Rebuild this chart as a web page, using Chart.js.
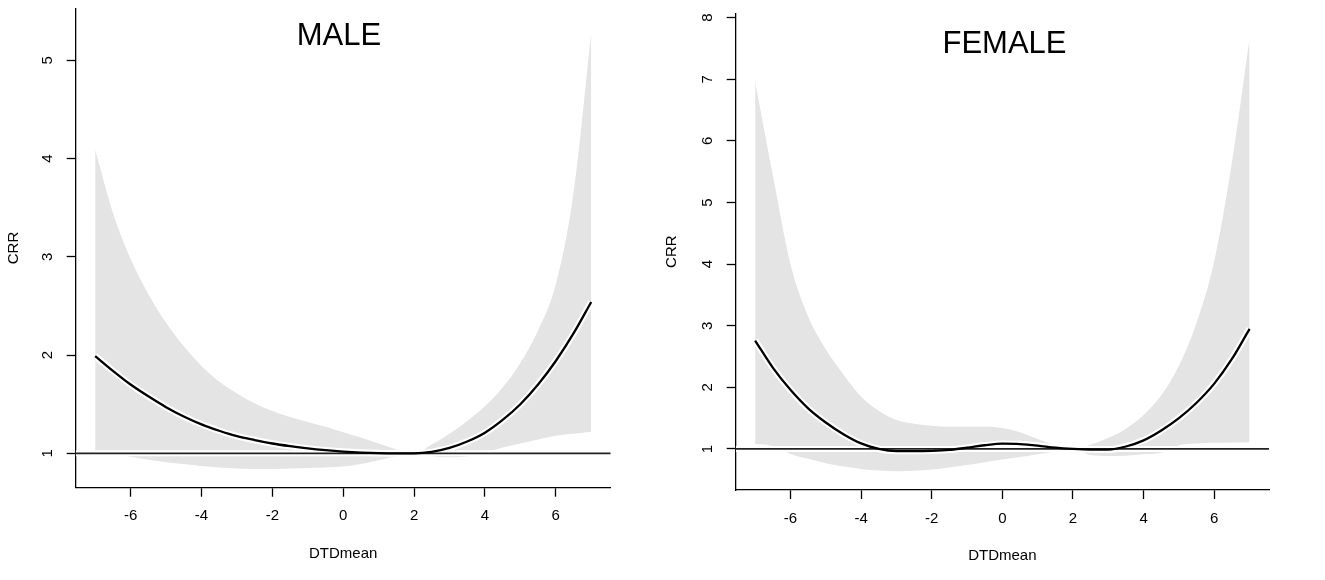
<!DOCTYPE html>
<html>
<head>
<meta charset="utf-8">
<script src="https://cdn.jsdelivr.net/npm/chart.js@4.4.0/dist/chart.umd.min.js"></script>
<style>
  html, body { margin: 0; padding: 0; background: #fff; width: 1325px; height: 580px; overflow: hidden; }
  #wl { position: absolute; left: 0; top: 0; width: 662px; height: 580px; }
  #wr { position: absolute; left: 662px; top: 0; width: 663px; height: 580px; }
</style>
</head>
<body>
<div id="wl"><canvas id="cl" width="662" height="580"></canvas></div>
<div id="wr"><canvas id="cr" width="663" height="580"></canvas></div>
<script>
// ---------- data ----------
const dtd = [-7, -6.5, -6, -5.5, -5, -4.5, -4, -3.5, -3, -2.5, -2, -1.5, -1, -0.5, 0,
             0.5, 1, 1.5, 2, 2.5, 3, 3.5, 4, 4.5, 5, 5.5, 6, 6.5, 7];

const xTicks = [-6, -4, -2, 0, 2, 4, 6];
const maleYTicks = [1, 2, 3, 4, 5];
const femaleYTicks = [1, 2, 3, 4, 5, 6, 7, 8];

const xRange = [-7.55, 7.55];
const maleYRange = [0.65, 5.53];
const femaleYRange = [0.334, 8.07];
const refValue = 1;

const maleFit   = [1.99, 1.84, 1.70, 1.58, 1.47, 1.375, 1.295, 1.23, 1.175, 1.135, 1.10, 1.073, 1.05, 1.032, 1.018,
                   1.008, 1.002, 1.0, 1.0, 1.015, 1.055, 1.12, 1.21, 1.34, 1.50, 1.70, 1.94, 2.22, 2.54];
const maleUpper = [4.09, 3.45, 2.98, 2.62, 2.33, 2.09, 1.89, 1.73, 1.61, 1.51, 1.43, 1.37, 1.32, 1.27, 1.215,
                   1.16, 1.10, 1.04, 1.0, 1.09, 1.20, 1.33, 1.48, 1.67, 1.92, 2.25, 2.72, 3.65, 5.28];
const maleLower = [1.03, 1.0, 0.965, 0.935, 0.91, 0.89, 0.87, 0.855, 0.845, 0.84, 0.84, 0.845, 0.85, 0.855, 0.865,
                   0.89, 0.93, 0.97, 1.0, 0.97, 0.96, 0.97, 1.01, 1.06, 1.10, 1.14, 1.18, 1.20, 1.22];

const femaleFit   = [2.76, 2.32, 1.96, 1.66, 1.43, 1.24, 1.09, 1.0, 0.965, 0.965, 0.97, 0.985, 1.02, 1.06, 1.085,
                     1.08, 1.055, 1.02, 1.0, 0.99, 0.99, 1.04, 1.14, 1.30, 1.50, 1.75, 2.06, 2.46, 2.95];
const femaleUpper = [6.96, 5.45, 4.0, 3.15, 2.62, 2.21, 1.85, 1.62, 1.47, 1.41, 1.375, 1.36, 1.36, 1.36, 1.34,
                     1.27, 1.16, 1.06, 1.0, 1.07, 1.18, 1.33, 1.55, 1.87, 2.35, 3.05, 4.05, 5.65, 7.66];
const femaleLower = [1.08, 1.05, 0.92, 0.84, 0.77, 0.715, 0.675, 0.65, 0.64, 0.645, 0.665, 0.70, 0.74, 0.785, 0.83,
                     0.87, 0.915, 0.96, 1.0, 0.90, 0.885, 0.89, 0.915, 0.94, 1.06, 1.09, 1.10, 1.105, 1.11];

// ---------- styling ----------
const FONT = "'Liberation Sans', Arial, Helvetica, sans-serif";
const BAND = '#e4e4e4';

const pts = arr => dtd.map((x, i) => ({ x: x, y: arr[i] }));
const refPts = () => [{ x: xRange[0], y: refValue }, { x: xRange[1], y: refValue }];

const titlePlugin = {
  id: 'panelTitle',
  afterDraw(chart, args, opts) {
    const ctx = chart.ctx;
    ctx.save();
    ctx.font = '31px ' + FONT;
    ctx.fillStyle = '#000';
    ctx.textAlign = 'center';
    ctx.textBaseline = 'alphabetic';
    ctx.fillText(opts.text, opts.x, opts.y);
    ctx.restore();
  }
};

function lineDs(data, color, width, order, extra) {
  return Object.assign({
    data: data, borderColor: color, borderWidth: width, pointRadius: 0,
    fill: false, order: order, cubicInterpolationMode: 'monotone', borderCapStyle: 'butt'
  }, extra || {});
}

function makePanel(id, p) {
  const ctx = document.getElementById(id);
  return new Chart(ctx, {
    type: 'line',
    data: {
      datasets: [
        lineDs(pts(p.upper), 'rgba(0,0,0,0)', 0, 10, { fill: '+1', backgroundColor: BAND }),
        lineDs(pts(p.lower), 'rgba(0,0,0,0)', 0, 10),
        lineDs(refPts(), '#ffffff', 6, 5),
        lineDs(pts(p.fit), '#ffffff', 6.5, 4),
        lineDs(refPts(), '#222222', 1.7, 2),
        lineDs(pts(p.fit), '#000000', 2.3, 1)
      ]
    },
    options: {
      responsive: false,
      animation: false,
      events: [],
      layout: { padding: p.pad },
      plugins: {
        legend: { display: false },
        tooltip: { enabled: false },
        panelTitle: { text: p.title, x: p.titleX, y: p.titleY }
      },
      scales: {
        x: {
          type: 'linear',
          min: xRange[0], max: xRange[1],
          z: 1,
          afterBuildTicks: s => { s.ticks = xTicks.map(v => ({ value: v })); },
          afterFit: s => { s.height = p.xH; s.paddingLeft = 0; s.paddingRight = 0; },
          grid: { display: true, drawOnChartArea: false, drawTicks: true, tickLength: 9, tickWidth: 1.3, tickColor: '#000' },
          border: { display: true, color: '#000', width: 1.3 },
          ticks: { color: '#000', font: { family: FONT, size: 15 }, padding: 10.5, minRotation: 0, maxRotation: 0, autoSkip: false },
          title: { display: true, text: 'DTDmean', color: '#000', font: { family: FONT, size: 15 }, padding: 0 }
        },
        y: {
          type: 'linear',
          min: p.yRange[0], max: p.yRange[1],
          z: 1,
          afterBuildTicks: s => { s.ticks = p.yTicks.map(v => ({ value: v })); },
          afterFit: s => { s.width = p.yW; s.paddingTop = 0; s.paddingBottom = 0; },
          grid: { display: true, drawOnChartArea: false, drawTicks: true, tickLength: 9, tickWidth: 1.3, tickColor: '#000' },
          border: { display: true, color: '#000', width: 1.3 },
          ticks: { color: '#000', font: { family: FONT, size: 15 }, padding: p.yTickPad, minRotation: 90, maxRotation: 90, crossAlign: 'center', autoSkip: false },
          title: { display: true, text: 'CRR', color: '#000', font: { family: FONT, size: 15 }, padding: 0 }
        }
      }
    },
    plugins: [titlePlugin]
  });
}

makePanel('cl', {
  title: 'MALE', titleX: 339, titleY: 45,
  fit: maleFit, upper: maleUpper, lower: maleLower,
  yRange: maleYRange, yTicks: maleYTicks,
  pad: { left: 4.7, right: 51.3, top: 8.3, bottom: 17.5 },
  yW: 71, xH: 74.8, yTickPad: 15
});

makePanel('cr', {
  title: 'FEMALE', titleX: 342.5, titleY: 53.3,
  fit: femaleFit, upper: femaleUpper, lower: femaleLower,
  yRange: femaleYRange, yTicks: femaleYTicks,
  pad: { left: 1.2, right: 56, top: 13.3, bottom: 15 },
  yW: 72.5, xH: 75, yTickPad: 14.2
});
</script>
</body>
</html>
